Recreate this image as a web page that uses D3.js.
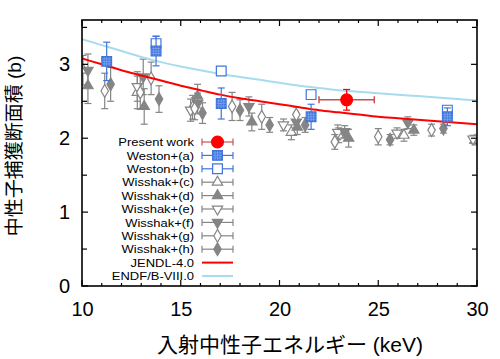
<!DOCTYPE html>
<html><head><meta charset="utf-8">
<script src="https://cdn.jsdelivr.net/npm/d3@7"></script>
<style>body{margin:0;background:#fff}svg{display:block}</style>
</head><body>
<svg id="c" width="500" height="359"></svg>
<script>
// ---- data ----
const xTicks = [10, 15, 20, 25, 30];
const yTicks = [0, 1, 2, 3];

const presentWork = [{e: 23.4, v: 2.52, dv: 0.14, de: 1.4}];
const westonA = [
  {e: 11.25, v: 3.04, dv: 0.26}, {e: 13.75, v: 3.18, dv: 0.2},
  {e: 17.05, v: 2.47, dv: 0.21}, {e: 21.6, v: 2.29, dv: 0.17}, {e: 28.5, v: 2.29, dv: 0.12}];
const westonB = [
  {e: 13.75, v: 3.28, dv: 0.1}, {e: 17.05, v: 2.91, dv: 0.04},
  {e: 21.6, v: 2.59, dv: 0.05}, {e: 28.5, v: 2.38, dv: 0.06}];
const wisshakC = [
  {e: 10.05, v: 2.92, dv: 0.2}, {e: 12.8, v: 2.62, dv: 0.22}, {e: 15.6, v: 2.42, dv: 0.16},
  {e: 20.6, v: 2.08, dv: 0.1}, {e: 23.0, v: 2.04, dv: 0.1}, {e: 26.3, v: 2.04, dv: 0.08}, {e: 29.9, v: 1.97, dv: 0.06}];
const wisshakD = [
  {e: 10.3, v: 2.71, dv: 0.24}, {e: 13.15, v: 2.43, dv: 0.24}, {e: 15.85, v: 2.57, dv: 0.16},
  {e: 18.6, v: 2.22, dv: 0.12}, {e: 20.9, v: 2.15, dv: 0.1}, {e: 23.5, v: 2.0, dv: 0.12}, {e: 26.8, v: 2.11, dv: 0.07}];
const wisshakE = [
  {e: 12.8, v: 2.70, dv: 0.2}, {e: 15.5, v: 2.38, dv: 0.15}, {e: 20.2, v: 2.18, dv: 0.08},
  {e: 22.95, v: 2.08, dv: 0.1}, {e: 25.95, v: 2.07, dv: 0.07}, {e: 29.8, v: 1.99, dv: 0.05}];
const wisshakF = [
  {e: 10.3, v: 2.92, dv: 0.22}, {e: 13.1, v: 2.83, dv: 0.24}, {e: 15.85, v: 2.47, dv: 0.14},
  {e: 18.45, v: 2.43, dv: 0.13}, {e: 20.85, v: 2.22, dv: 0.1}, {e: 23.3, v: 2.09, dv: 0.08}, {e: 26.5, v: 2.21, dv: 0.08}];
const wisshakG = [
  {e: 11.15, v: 2.64, dv: 0.24}, {e: 12.95, v: 2.62, dv: 0.23}, {e: 13.5, v: 2.81, dv: 0.22},
  {e: 15.7, v: 2.40, dv: 0.15}, {e: 17.6, v: 2.43, dv: 0.19}, {e: 19.1, v: 2.29, dv: 0.17},
  {e: 20.85, v: 2.32, dv: 0.1}, {e: 22.8, v: 1.95, dv: 0.1}, {e: 25.0, v: 2.02, dv: 0.11}, {e: 27.7, v: 2.11, dv: 0.08}];
const wisshakH = [
  {e: 11.45, v: 2.73, dv: 0.23}, {e: 13.9, v: 2.53, dv: 0.18}, {e: 16.1, v: 2.34, dv: 0.14},
  {e: 18.0, v: 2.38, dv: 0.14}, {e: 19.5, v: 2.18, dv: 0.1}, {e: 21.3, v: 2.18, dv: 0.1},
  {e: 25.6, v: 1.98, dv: 0.07}, {e: 28.3, v: 2.13, dv: 0.06}];
const lineE = [10,11,12,13,14,15,16,17,18,19,20,21,22,23,24,25,26,27,28,29,30];
const jendl = [3.08,3.00,2.92,2.85,2.78,2.71,2.65,2.59,2.54,2.50,2.46,2.42,2.38,2.35,2.32,2.29,2.27,2.25,2.23,2.21,2.19];
const endf  = [3.34,3.26,3.18,3.10,3.03,2.97,2.92,2.87,2.83,2.79,2.75,2.71,2.68,2.65,2.63,2.61,2.59,2.57,2.55,2.53,2.51];

const legendNames = ["Present work","Weston+(a)","Weston+(b)","Wisshak+(c)","Wisshak+(d)","Wisshak+(e)","Wisshak+(f)","Wisshak+(g)","Wisshak+(h)","JENDL-4.0","ENDF/B-VIII.0"];

// ---- drawing ----
const svg = d3.select("#c");
const L = 82, R = 477, T = 20, B = 286;
const x = d3.scaleLinear().domain([10, 30]).range([L, R]);
const y = d3.scaleLinear().domain([0, 3.6]).range([B, T]);
const gray = "#858585", blue = "#3f74dc", red = "#ff0000", errRed = "#c85050", lblue = "#a6dcee";
const latin = "'Liberation Sans', Arial, sans-serif";
const cjk = "'Liberation Sans', 'Noto Sans CJK JP', sans-serif";

svg.append("clipPath").attr("id","pc").append("rect").attr("x",L).attr("y",T).attr("width",R-L).attr("height",B-T);
const plot = svg.append("g").attr("clip-path","url(#pc)");

const sym = {
  triUp: d3.symbol().type(d3.symbolTriangle).size(46),
  sq: d3.symbol().type(d3.symbolSquare).size(95),
  dia: d3.symbol().type(d3.symbolDiamond).size(48),
  circ: d3.symbol().type(d3.symbolCircle).size(110)
};
function marker(g, kind, cx, cy, color, filled) {
  let p;
  if (kind === "triDown") p = g.append("path").attr("d", sym.triUp()).attr("transform", `translate(${cx},${cy}) rotate(180)`);
  else p = g.append("path").attr("d", sym[kind]()).attr("transform", `translate(${cx},${cy})`);
  p.attr("fill", filled ? color : "#fff").attr("stroke", color).attr("stroke-width", 1.2);
  if (kind === "sq" && filled) {
    for (const o of [-2.5, 0, 2.5]) {
      g.append("line").attr("x1", cx+o).attr("x2", cx+o).attr("y1", cy-4.5).attr("y2", cy+4.5).attr("stroke", "#8fb0f0").attr("stroke-width", 0.6);
      g.append("line").attr("y1", cy+o).attr("y2", cy+o).attr("x1", cx-4.5).attr("x2", cx+4.5).attr("stroke", "#8fb0f0").attr("stroke-width", 0.6);
    }
  }
}
function errY(g, d, color) {
  const cx = x(d.e), y1 = y(d.v + d.dv), y2 = y(d.v - d.dv);
  g.append("line").attr("x1", cx).attr("x2", cx).attr("y1", y1).attr("y2", y2).attr("stroke", color).attr("stroke-width", 1.2);
  for (const yy of [y1, y2]) g.append("line").attr("x1", cx-3.5).attr("x2", cx+3.5).attr("y1", yy).attr("y2", yy).attr("stroke", color).attr("stroke-width", 1.2);
}
function series(data, kind, color, filled) {
  const g = plot.append("g");
  data.forEach(d => errY(g, d, color));
  data.forEach(d => marker(g, kind, x(d.e), y(d.v), color, filled));
}

series(wisshakC, "triUp", gray, false);
series(wisshakD, "triUp", gray, true);
series(wisshakE, "triDown", gray, false);
series(wisshakF, "triDown", gray, true);
series(wisshakG, "dia", gray, false);
series(wisshakH, "dia", gray, true);

const line = d3.line().x((d,i) => x(lineE[i])).y(d => y(d)).curve(d3.curveMonotoneX);
plot.append("path").attr("d", line(endf)).attr("fill","none").attr("stroke",lblue).attr("stroke-width",2);
plot.append("path").attr("d", line(jendl)).attr("fill","none").attr("stroke",red).attr("stroke-width",2);

series(westonB, "sq", blue, false);
series(westonA, "sq", blue, true);

{
  const g = plot.append("g");
  presentWork.forEach(d => {
    const cx = x(d.e), cy = y(d.v);
    g.append("line").attr("x1", x(d.e-d.de)).attr("x2", x(d.e+d.de)).attr("y1", cy).attr("y2", cy).attr("stroke", errRed).attr("stroke-width", 1.5);
    for (const xx of [x(d.e-d.de), x(d.e+d.de)]) g.append("line").attr("x1", xx).attr("x2", xx).attr("y1", cy-3.5).attr("y2", cy+3.5).attr("stroke", errRed).attr("stroke-width", 1.5);
    errY(g, d, red);
    marker(g, "circ", cx, cy, red, true);
  });
}

// axes frame & ticks
const ax = svg.append("g");
ax.append("rect").attr("x",L).attr("y",T).attr("width",R-L).attr("height",B-T).attr("fill","none").attr("stroke","#000").attr("stroke-width",1.6);
for (let v = 10; v <= 30; v++) {
  const len = v % 5 === 0 ? 6 : 3;
  ax.append("line").attr("x1", x(v)).attr("x2", x(v)).attr("y1", B).attr("y2", B-len).attr("stroke","#000").attr("stroke-width",1.2);
  ax.append("line").attr("x1", x(v)).attr("x2", x(v)).attr("y1", T).attr("y2", T+len).attr("stroke","#000").attr("stroke-width",1.2);
}
for (let k = 0; k <= 7; k++) {
  const v = k * 0.5, len = k % 2 === 0 ? 6 : 5;
  ax.append("line").attr("y1", y(v)).attr("y2", y(v)).attr("x1", L).attr("x2", L+len).attr("stroke","#000").attr("stroke-width",1.2);
  ax.append("line").attr("y1", y(v)).attr("y2", y(v)).attr("x1", R).attr("x2", R-len).attr("stroke","#000").attr("stroke-width",1.2);
}
const xlab = d3.axisBottom(x).tickValues(xTicks).tickSize(0).tickPadding(16).tickFormat(d3.format("d"));
const gx = ax.append("g").attr("transform", `translate(0,${B})`).call(xlab);
gx.select(".domain").remove();
gx.selectAll("text").attr("font-family", latin).attr("font-size", 20).attr("fill","#000");
const ylab = d3.axisLeft(y).tickValues(yTicks).tickSize(0).tickPadding(12).tickFormat(d3.format("d"));
const gy = ax.append("g").attr("transform", `translate(${L},0)`).call(ylab);
gy.select(".domain").remove();
gy.selectAll("text").attr("font-family", latin).attr("font-size", 20).attr("fill","#000");

svg.append("text").attr("x", 290).attr("y", 352).attr("text-anchor","middle").attr("font-family", cjk).attr("font-size", 21).text("入射中性子エネルギー (keV)");
svg.append("text").attr("transform","translate(21,146) rotate(-90)").attr("text-anchor","middle").attr("font-family", cjk).attr("font-size", 19).text("中性子捕獲断面積 (b)");

// legend
const lg = svg.append("g");
const ly0 = 142, ldy = 13.4, lx = 194, s1 = 202, s2 = 233, sm = 217.5;
const legKinds = [
  {k:"circ", c:red, f:true, err:errRed}, {k:"sq", c:blue, f:true}, {k:"sq", c:blue, f:false},
  {k:"triUp", c:gray, f:false}, {k:"triUp", c:gray, f:true}, {k:"triDown", c:gray, f:false},
  {k:"triDown", c:gray, f:true}, {k:"dia", c:gray, f:false}, {k:"dia", c:gray, f:true},
  {line:red}, {line:lblue}];
legendNames.forEach((name, i) => {
  const yy = ly0 + i * ldy;
  lg.append("text").attr("transform", `translate(${lx},${yy}) scale(1.1,1)`).attr("dy","0.35em").attr("text-anchor","end").attr("font-family", latin).attr("font-size", 11.8).text(name);
  const k = legKinds[i];
  if (k.line) {
    lg.append("line").attr("x1", s1).attr("x2", s2).attr("y1", yy).attr("y2", yy).attr("stroke", k.line).attr("stroke-width", 2);
  } else {
    const ec = k.err || k.c;
    lg.append("line").attr("x1", s1).attr("x2", s2).attr("y1", yy).attr("y2", yy).attr("stroke", ec).attr("stroke-width", 1.2);
    for (const xx of [s1, s2]) lg.append("line").attr("x1", xx).attr("x2", xx).attr("y1", yy-3.5).attr("y2", yy+3.5).attr("stroke", ec).attr("stroke-width", 1.2);
    marker(lg, k.k, sm, yy, k.c, k.f);
  }
});
</script>
</body></html>
